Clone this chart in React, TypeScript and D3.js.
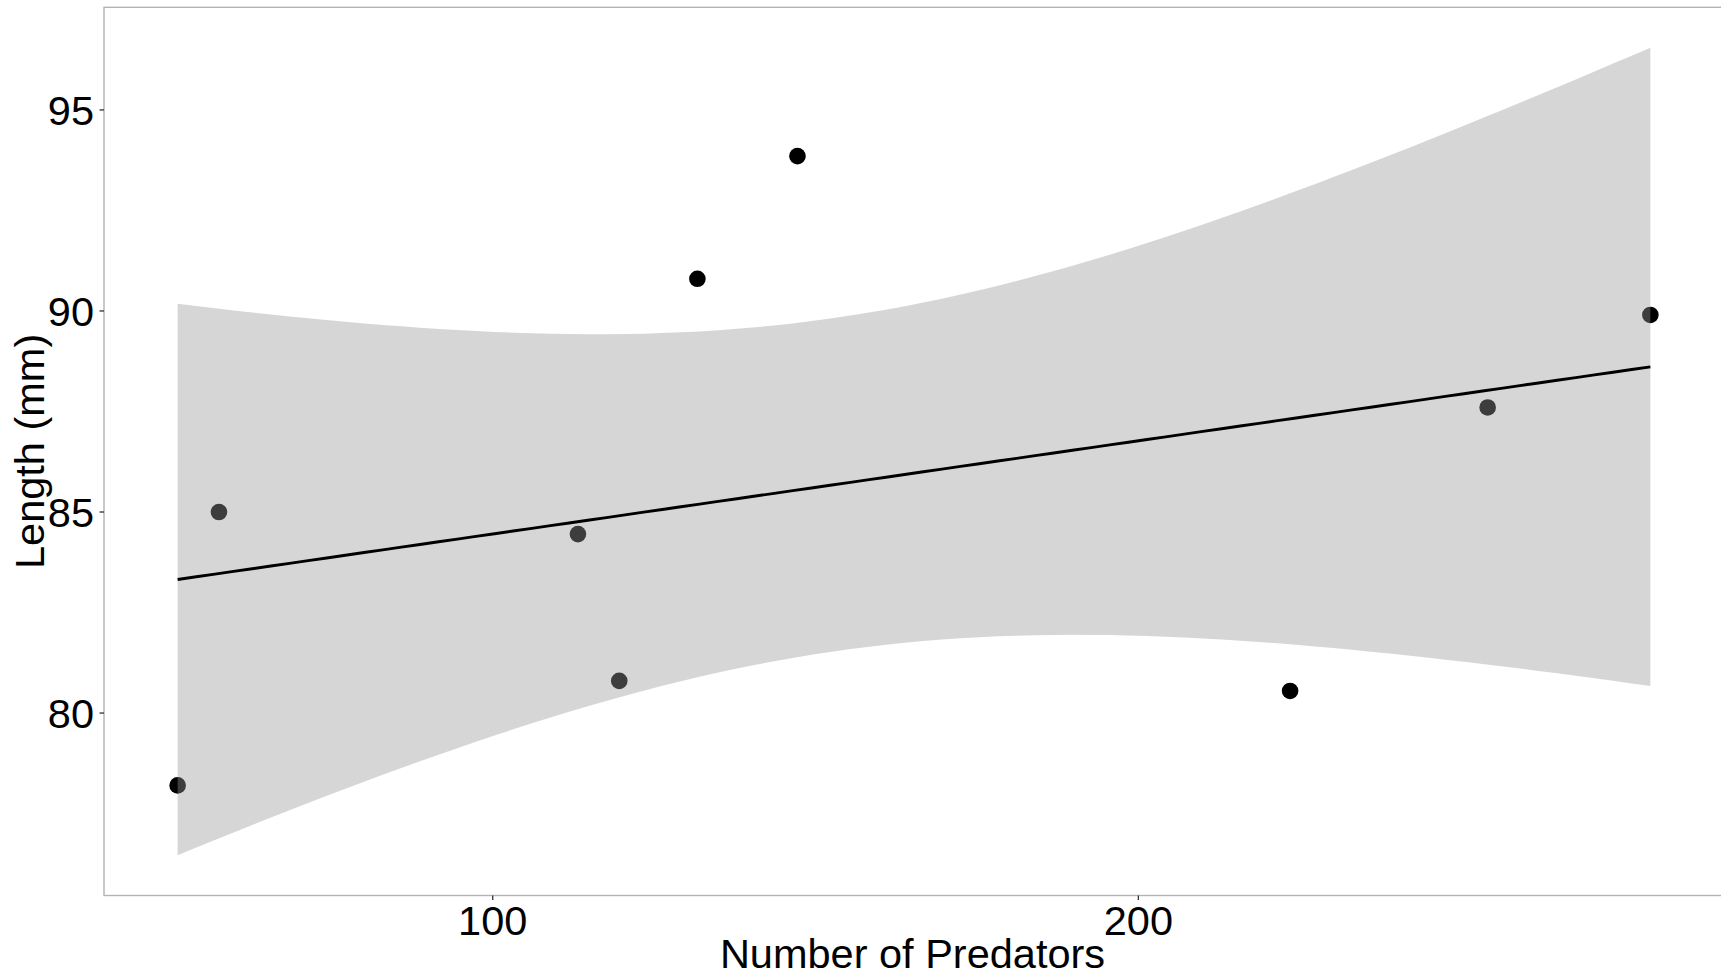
import React from "react";
import * as d3 from "d3";

// Data
const predators: number[] = [51.2, 57.6, 113.2, 119.6, 131.7, 147.2, 223.5, 254.1, 279.3];
const lengths: number[] = [78.2, 85.0, 84.45, 80.8, 90.8, 93.85, 80.55, 87.6, 89.9];
const xTicks: number[] = [100, 200];
const yTicks: number[] = [80, 85, 90, 95];
const xTitle = "Number of Predators";
const yTitle = "Length (mm)";

// Student t 0.975 quantile for df = 7 (n - 2), as used by geom_smooth(method = "lm")
const T_975_DF7 = 2.364624;

const W = 1721;
const H = 978;
const FONT = "'Liberation Sans', Arial, Helvetica, sans-serif";

function lmFit(xs: number[], ys: number[]) {
  const n = xs.length;
  const mx = d3.mean(xs) as number;
  const my = d3.mean(ys) as number;
  let sxx = 0, sxy = 0;
  for (let i = 0; i < n; i++) {
    sxx += (xs[i] - mx) ** 2;
    sxy += (xs[i] - mx) * (ys[i] - my);
  }
  const slope = sxy / sxx;
  const intercept = my - slope * mx;
  let sse = 0;
  for (let i = 0; i < n; i++) sse += (ys[i] - (intercept + slope * xs[i])) ** 2;
  const s = Math.sqrt(sse / (n - 2));
  const xmin = d3.min(xs) as number;
  const xmax = d3.max(xs) as number;
  const pts = d3.range(80).map((i) => {
    const x = xmin + ((xmax - xmin) * i) / 79;
    const y = intercept + slope * x;
    const se = s * Math.sqrt(1 / n + (x - mx) ** 2 / sxx);
    return { x, y, lo: y - T_975_DF7 * se, hi: y + T_975_DF7 * se };
  });
  return pts;
}

export default function App() {
  const fit = lmFit(predators, lengths);

  const left = 104;
  const top = 7.3;
  const right = 1724;
  const bottom = 895.5;

  const xExt = d3.extent(predators) as [number, number];
  const xPad = (xExt[1] - xExt[0]) * 0.05;
  const yMin = Math.min(d3.min(lengths) as number, d3.min(fit, (d) => d.lo) as number);
  const yMax = Math.max(d3.max(lengths) as number, d3.max(fit, (d) => d.hi) as number);
  const yPad = (yMax - yMin) * 0.05;

  const x = d3.scaleLinear().domain([xExt[0] - xPad, xExt[1] + xPad]).range([left, right]);
  const y = d3.scaleLinear().domain([yMin - yPad, yMax + yPad]).range([bottom, top]);

  const band = d3
    .area<{ x: number; lo: number; hi: number }>()
    .x((d) => x(d.x))
    .y0((d) => y(d.lo))
    .y1((d) => y(d.hi));
  const line = d3
    .line<{ x: number; y: number }>()
    .x((d) => x(d.x))
    .y((d) => y(d.y));

  const fs = 41.5;

  return (
    <svg
      width={W}
      height={H}
      viewBox={`0 0 ${W} ${H}`}
      style={{ position: "absolute", left: 0, top: 0, background: "#fff" }}
    >
      <rect x={0} y={0} width={W} height={H} fill="#ffffff" />
      <defs>
        <clipPath id="panelClip">
          <rect x={left} y={top} width={right - left} height={bottom - top} />
        </clipPath>
      </defs>
      <g clipPath="url(#panelClip)">
        {predators.map((p, i) => (
          <circle key={i} cx={x(p)} cy={y(lengths[i])} r={8.3} fill="#000000" />
        ))}
        <path d={band(fit) || ""} fill="#999999" fillOpacity={0.4} stroke="none" />
        <path d={line(fit) || ""} fill="none" stroke="#000000" strokeWidth={2.9} />
      </g>
      {/* panel border */}
      <rect
        x={left}
        y={top}
        width={right - left}
        height={bottom - top}
        fill="none"
        stroke="#b3b3b3"
        strokeWidth={1.4}
      />
      {/* y axis ticks */}
      {yTicks.map((t) => (
        <g key={"y" + t}>
          <line x1={left - 4.5} x2={left} y1={y(t)} y2={y(t)} stroke="#333333" strokeWidth={1.3} />
          <text
            x={left - 10}
            y={y(t)}
            dy="0.36em"
            textAnchor="end"
            fontFamily={FONT}
            fontSize={fs}
            fill="#000000"
          >
            {t}
          </text>
        </g>
      ))}
      {/* x axis ticks */}
      {xTicks.map((t) => (
        <g key={"x" + t}>
          <line x1={x(t)} x2={x(t)} y1={bottom} y2={bottom + 4.5} stroke="#333333" strokeWidth={1.3} />
          <text
            x={x(t)}
            y={935}
            textAnchor="middle"
            fontFamily={FONT}
            fontSize={fs}
            fill="#000000"
          >
            {t}
          </text>
        </g>
      ))}
      <text
        x={(left + 1721) / 2}
        y={968}
        textAnchor="middle"
        fontFamily={FONT}
        fontSize={fs}
        fill="#000000"
      >
        {xTitle}
      </text>
      <text
        transform={`translate(44, ${(top + bottom) / 2}) rotate(-90)`}
        textAnchor="middle"
        fontFamily={FONT}
        fontSize={fs}
        fill="#000000"
      >
        {yTitle}
      </text>
    </svg>
  );
}
